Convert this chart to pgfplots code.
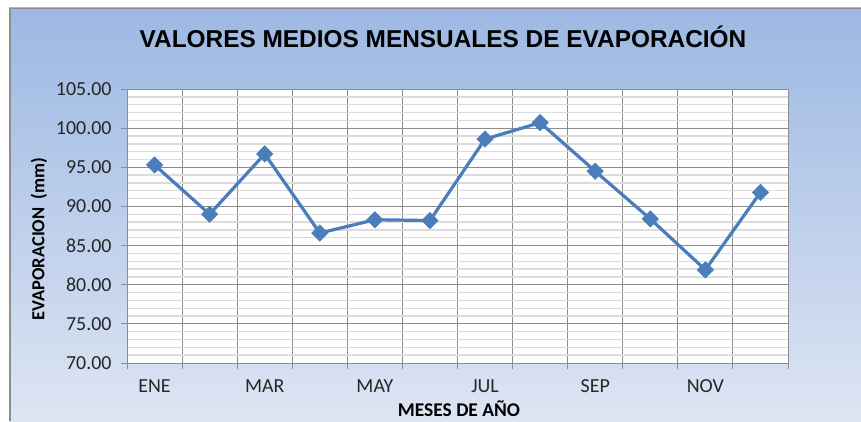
\documentclass[border=0pt]{standalone}
\usepackage{fontspec}
\setmainfont{Carlito}
\newfontfamily\titlefont{Liberation Sans}
\usepackage{pgfplots}
\pgfplotsset{compat=1.18}

\definecolor{serieblue}{HTML}{4A7EBB}
\definecolor{bgtop}{RGB}{156,184,227}
\definecolor{bgbottom}{RGB}{221,229,243}
\definecolor{majgrid}{HTML}{8C8C8C}
\definecolor{mingrid}{HTML}{DCDCDC}
\definecolor{framegray}{HTML}{8E8E8E}

\begin{document}
\begin{tikzpicture}[x=1bp,y=1bp]
    % page size and background
    \useasboundingbox (0,0) rectangle (861,421);
    \shade[top color=bgtop, bottom color=bgbottom] (9,0) rectangle (861,413);
    \draw[framegray, line width=1.5bp] (9.75,0) -- (9.75,412.25) -- (861,412.25);

    % titles
    \node[font=\titlefont\bfseries\fontsize{24.5}{28}\selectfont] at (443,384)
        {VALORES MEDIOS MENSUALES DE EVAPORACIÓN};
    \node[font=\bfseries\fontsize{18.5}{20}\selectfont, rotate=90] at (39,182)
        {EVAPORACION\ \ (mm)};
    \node[font=\bfseries\fontsize{19.5}{20}\selectfont] at (459,12)
        {MESES\ DE AÑO};

    \begin{axis}[
        at                = {(127bp,58bp)},
        anchor            = south west,
        scale only axis,
        width             = 661bp,
        height            = 274bp,
        % Axes
        xmin = 0.5,
        xmax = 12.5,
        ymin = 70,
        ymax = 105,
        % Ticks
        xtick              = {0.5,1.5,...,12.5},
        xticklabels        = {},
        extra x ticks      = {1,3,5,7,9,11},
        extra x tick labels = {ENE,MAR,MAY,JUL,SEP,NOV},
        extra x tick style = {major tick length=0pt, grid=none,
                              tick label style={yshift=-13bp}},
        ytick              = {70,75,...,105},
        minor y tick num   = 4,
        tick align         = outside,
        xtick pos          = bottom,
        ytick pos          = left,
        major tick length  = 6bp,
        minor tick length  = 0pt,
        tick style         = {majgrid, line width=1bp},
        ticklabel style    = {font=\fontsize{20}{22}\selectfont, text=black!85},
        yticklabel style   = {xshift=-6bp},
        /pgf/number format/assume math mode=true,
        y tick label style = {/pgf/number format/.cd, fixed, fixed zerofill, precision=2},
        % Grid
        xmajorgrids        = true,
        ymajorgrids        = true,
        yminorgrids        = true,
        major grid style   = {majgrid, line width=1bp},
        minor grid style   = {mingrid, line width=1.4bp},
        axis line style    = {majgrid, line width=1bp},
        axis background/.style = {fill=white},
        clip = false,
    ]
        % Evaporacion media mensual
        \addplot[
            color      = serieblue,
            line width = 3.2bp,
            mark       = square*,
            mark size  = 5.8bp,
            mark options = {rotate=45, line width=0.5bp, fill=serieblue}
        ] coordinates {
            (1, 95.3)
            (2, 89.0)
            (3, 96.7)
            (4, 86.6)
            (5, 88.3)
            (6, 88.2)
            (7, 98.6)
            (8, 100.7)
            (9, 94.5)
            (10, 88.4)
            (11, 81.9)
            (12, 91.8)
        };
    \end{axis}
\end{tikzpicture}
\end{document}
